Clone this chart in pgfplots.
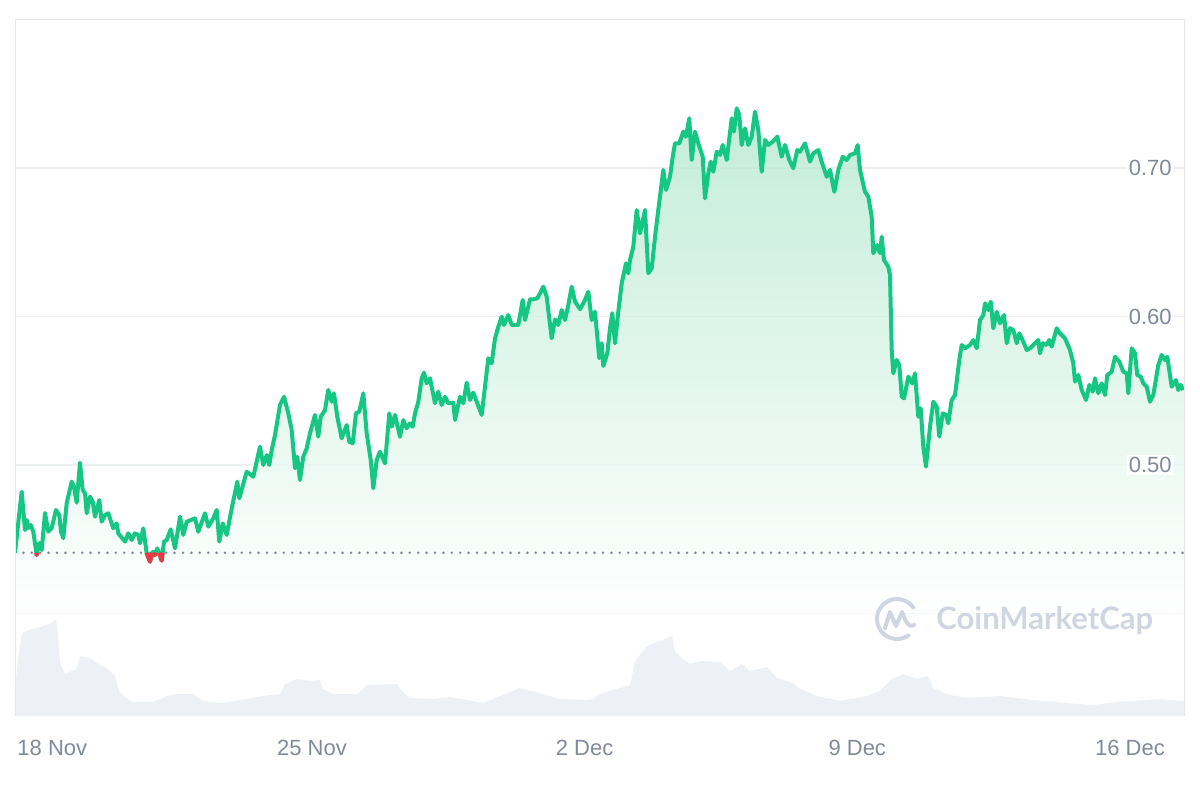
\documentclass[border=0pt]{standalone}
\usepackage{fontspec}
\setmainfont{Liberation Sans}
\newfontfamily\cmcfont{Lato}
\usepackage{pgfplots}
\usepackage{pgfplotstable}
\pgfplotsset{compat=1.18}

\definecolor{cmcgreen}{RGB}{22,199,132}
\definecolor{cmcred}{RGB}{234,57,67}
\definecolor{tickgray}{RGB}{128,138,157}
\definecolor{gridgray}{RGB}{236,239,242}
\definecolor{framegray}{RGB}{228,231,235}
\definecolor{volgray}{RGB}{237,240,244}
\definecolor{fillgreen}{RGB}{180,232,207}
\definecolor{markgray}{RGB}{207,214,226}

% tick labels above the plots
\pgfplotsset{
  layers/labelsontop/.define layer set={
    axis background,axis grid,axis ticks,axis lines,pre main,main,
    axis tick labels,axis descriptions,axis foreground
  }{
    grid style={/pgfplots/on layer=axis grid},
    tick style={/pgfplots/on layer=axis ticks},
    axis line style={/pgfplots/on layer=axis lines},
    label style={/pgfplots/on layer=axis descriptions},
    ticklabel style={/pgfplots/on layer=axis tick labels},
  },
}

% price, x = days since 18 Nov
\pgfplotstableread{
day price
-0.625 0.4409
-0.453 0.4820
-0.368 0.4562
-0.324 0.4630
-0.283 0.4576
-0.222 0.4596
-0.155 0.4551
-0.068 0.4394
-0.001 0.4475
0.061 0.4428
0.146 0.4677
0.230 0.4551
0.318 0.4576
0.428 0.4697
0.513 0.4663
0.556 0.4551
0.615 0.4508
0.703 0.4744
0.831 0.4888
0.890 0.4854
0.959 0.4746
1.044 0.5015
1.113 0.4832
1.173 0.4809
1.216 0.4675
1.301 0.4787
1.370 0.4753
1.429 0.4652
1.540 0.4764
1.601 0.4618
1.686 0.4663
1.771 0.4675
1.899 0.4574
1.986 0.4607
2.027 0.4540
2.200 0.4484
2.284 0.4540
2.372 0.4495
2.456 0.4540
2.541 0.4529
2.585 0.4473
2.669 0.4574
2.757 0.4405
2.841 0.4349
2.911 0.4416
2.970 0.4394
3.029 0.4439
3.080 0.4405
3.142 0.4356
3.201 0.4484
3.270 0.4495
3.373 0.4567
3.483 0.4439
3.612 0.4652
3.696 0.4529
3.784 0.4618
3.997 0.4641
4.081 0.4551
4.253 0.4675
4.338 0.4585
4.466 0.4641
4.554 0.4697
4.621 0.4484
4.708 0.4607
4.810 0.4529
4.939 0.4708
5.083 0.4888
5.134 0.4776
5.324 0.4955
5.494 0.4921
5.665 0.5123
5.750 0.5000
5.838 0.5067
5.904 0.5000
5.966 0.5101
6.051 0.5202
6.179 0.5404
6.282 0.5460
6.392 0.5348
6.479 0.5236
6.564 0.4978
6.623 0.5056
6.692 0.4899
6.777 0.5056
6.865 0.5113
6.949 0.5213
7.077 0.5337
7.162 0.5191
7.224 0.5325
7.334 0.5370
7.419 0.5505
7.506 0.5426
7.565 0.5483
7.650 0.5325
7.763 0.5180
7.891 0.5269
7.958 0.5157
8.045 0.5146
8.130 0.5348
8.215 0.5359
8.318 0.5483
8.405 0.5213
8.508 0.5034
8.574 0.4843
8.662 0.5034
8.746 0.5090
8.875 0.5011
8.985 0.5348
9.047 0.5258
9.131 0.5337
9.260 0.5190
9.345 0.5303
9.432 0.5247
9.516 0.5281
9.586 0.5258
9.645 0.5348
9.730 0.5426
9.817 0.5584
9.876 0.5622
9.945 0.5550
10.030 0.5584
10.158 0.5416
10.243 0.5494
10.330 0.5404
10.415 0.5460
10.500 0.5416
10.628 0.5420
10.672 0.5303
10.800 0.5460
10.885 0.5416
10.972 0.5554
11.057 0.5438
11.142 0.5487
11.357 0.5337
11.527 0.5719
11.614 0.5685
11.699 0.5853
11.784 0.5931
11.871 0.5999
11.930 0.5943
12.040 0.6010
12.128 0.5943
12.297 0.5943
12.410 0.6111
12.469 0.5976
12.597 0.6116
12.682 0.6116
12.785 0.6123
12.854 0.6156
12.939 0.6201
13.026 0.6133
13.154 0.5853
13.239 0.5981
13.324 0.5943
13.411 0.6044
13.496 0.5976
13.581 0.6077
13.668 0.6201
13.753 0.6100
13.881 0.6049
14.009 0.6111
14.094 0.6167
14.181 0.5976
14.266 0.6032
14.376 0.5719
14.438 0.5820
14.479 0.5667
14.582 0.5752
14.651 0.5921
14.710 0.6022
14.780 0.5820
14.864 0.6032
14.952 0.6224
15.062 0.6358
15.121 0.6291
15.165 0.6380
15.250 0.6470
15.337 0.6717
15.422 0.6560
15.550 0.6717
15.635 0.6291
15.722 0.6325
15.807 0.6537
15.891 0.6717
16.020 0.6987
16.089 0.6852
16.192 0.6941
16.261 0.7076
16.320 0.7166
16.430 0.7166
16.533 0.7245
16.602 0.7211
16.687 0.7335
16.749 0.7054
16.834 0.7245
16.918 0.7166
17.031 0.7076
17.090 0.6796
17.175 0.6964
17.237 0.7043
17.303 0.6975
17.391 0.7110
17.476 0.7088
17.545 0.7155
17.648 0.7054
17.776 0.7335
17.835 0.7245
17.904 0.7402
17.971 0.7357
18.033 0.7155
18.117 0.7267
18.202 0.7155
18.289 0.7211
18.374 0.7379
18.459 0.7256
18.546 0.6975
18.631 0.7189
18.716 0.7155
18.828 0.7177
18.946 0.7211
19.059 0.7076
19.144 0.7155
19.254 0.7054
19.357 0.6998
19.460 0.7121
19.529 0.7110
19.658 0.7166
19.786 0.7043
19.871 0.7099
19.999 0.7121
20.086 0.7043
20.215 0.6941
20.300 0.6987
20.410 0.6840
20.513 0.6987
20.626 0.7076
20.728 0.7054
20.813 0.7088
20.941 0.7099
21.011 0.7155
21.070 0.6987
21.198 0.6840
21.283 0.6807
21.370 0.6672
21.411 0.6426
21.514 0.6481
21.583 0.6426
21.627 0.6537
21.686 0.6380
21.797 0.6335
21.840 0.6279
21.884 0.5774
21.925 0.5617
22.012 0.5707
22.079 0.5673
22.141 0.5460
22.200 0.5449
22.310 0.5595
22.413 0.5550
22.482 0.5617
22.567 0.5325
22.628 0.5382
22.695 0.5123
22.764 0.4989
22.867 0.5258
22.952 0.5426
23.039 0.5393
23.106 0.5191
23.193 0.5348
23.278 0.5337
23.337 0.5281
23.424 0.5438
23.509 0.5471
23.619 0.5707
23.681 0.5808
23.766 0.5786
23.894 0.5808
23.979 0.5842
24.066 0.5786
24.151 0.5976
24.236 0.6010
24.280 0.6089
24.364 0.6044
24.426 0.6100
24.493 0.5921
24.580 0.6032
24.664 0.5954
24.767 0.6010
24.836 0.5820
24.921 0.5921
25.006 0.5909
25.093 0.5820
25.160 0.5887
25.263 0.5830
25.350 0.5774
25.434 0.5786
25.563 0.5820
25.647 0.5842
25.691 0.5752
25.760 0.5820
25.863 0.5808
25.930 0.5842
25.991 0.5797
26.120 0.5921
26.204 0.5887
26.333 0.5853
26.461 0.5774
26.546 0.5685
26.590 0.5561
26.675 0.5606
26.762 0.5505
26.872 0.5438
26.957 0.5539
27.044 0.5494
27.103 0.5584
27.188 0.5483
27.275 0.5550
27.360 0.5471
27.419 0.5606
27.532 0.5628
27.617 0.5729
27.727 0.5696
27.830 0.5628
27.917 0.5617
27.958 0.5483
28.045 0.5786
28.130 0.5752
28.189 0.5606
28.277 0.5595
28.343 0.5550
28.431 0.5527
28.515 0.5426
28.600 0.5471
28.728 0.5673
28.815 0.5741
28.900 0.5707
28.959 0.5729
29.072 0.5527
29.182 0.5572
29.241 0.5505
29.303 0.5539
29.370 0.5505
}\pricedata

% volume, arbitrary units
\pgfplotstableread{
day vol
-0.625 2.8
-0.548 5.7
-0.445 8.3
-0.317 8.5
-0.163 8.7
0.094 9.0
0.325 9.3
0.428 9.7
0.479 8.3
0.531 5.3
0.659 4.2
0.839 4.5
0.967 4.7
1.044 6.0
1.301 5.8
1.481 5.3
1.737 4.8
1.943 4.0
2.071 2.3
2.379 1.4
2.918 1.4
3.278 2.0
3.534 2.2
3.945 2.2
4.202 1.5
4.716 1.3
5.152 1.6
5.743 2.0
6.179 2.2
6.307 3.2
6.615 3.7
6.949 3.5
7.206 3.6
7.283 2.7
7.540 2.2
8.156 2.2
8.413 3.1
9.183 3.2
9.260 2.7
9.517 1.8
10.107 1.7
10.544 1.9
11.391 1.3
11.827 2.0
12.341 2.8
12.931 2.2
13.368 1.7
14.138 1.6
14.472 2.3
15.165 3.1
15.293 5.5
15.601 7.0
15.935 7.5
16.243 8.0
16.320 6.5
16.525 5.7
16.705 5.2
16.962 5.5
17.475 5.4
17.732 4.5
18.040 5.2
18.246 4.5
18.682 4.9
18.939 3.8
19.350 3.3
19.529 2.7
19.966 2.0
20.556 1.5
21.249 2.0
21.583 2.5
21.891 3.7
22.174 4.2
22.533 3.7
22.816 4.0
22.944 2.8
23.303 2.2
23.817 1.8
24.664 2.0
25.511 1.6
26.384 1.3
27.051 1.1
27.668 1.4
28.078 1.5
28.694 1.7
29.362 1.5
29.413 1.5
}\voldata

\begin{document}
\begin{tikzpicture}
\pgfplotsset{chartbase/.style={
  scale only axis, width=585pt, height=348.5pt,
  at={(7.5pt,42pt)}, anchor=south west,
  xmin=-0.6246, xmax=29.414}}

% volume underlay
\begin{axis}[chartbase, ymin=0, ymax=69.7, hide axis]
  \addplot[draw=none, fill=volgray] table[x=day, y=vol] {\voldata} \closedcycle;
\end{axis}

% price
\begin{axis}[chartbase,
    set layers=labelsontop,
    ymin=0.33098, ymax=0.80034,
    axis line style={draw=none},
    major tick length=0pt,
    xtick={0,7,14,21,28},
    xticklabels={\hspace*{13pt}18 Nov, 25 Nov, 2 Dec, 9 Dec, 16 Dec},
    ytick={0.4,0.5,0.6,0.7},
    yticklabels={,0.50,0.60,0.70},
    yticklabel pos=right,
    ymajorgrids,
    major grid style={gridgray, line width=0.9pt},
    tick label style={font=\fontsize{11}{13}\selectfont, text=tickgray},
    xticklabel style={anchor=center, yshift=-16pt},
    yticklabel style={anchor=east, xshift=-5.5pt, fill=white, inner xsep=1pt, inner ysep=1pt},
  ]
  \addplot[draw=none, fill opacity=0.8, top color=fillgreen, bottom color=white]
    table[x=day, y=price] {\pricedata}
    -- (axis cs:29.370,0.40) -- (axis cs:-0.625,0.40) -- cycle;

  % opening price reference
  \addplot[tickgray, line width=1.4pt, line cap=round, dash pattern=on 0pt off 4.2pt]
    coordinates {(-0.6246,0.4409) (29.414,0.4409)};

  \addplot[cmcgreen, line width=2pt, line join=round] table[x=day, y=price] {\pricedata};
  \addplot[cmcred, line width=2pt, line join=round, unbounded coords=jump] coordinates {
    (-0.076,0.4409) (-0.068,0.4394) (-0.056,0.4409) (-0.05,nan)
    (2.755,0.4409) (2.757,0.4405) (2.841,0.4349) (2.904,0.4409) (2.92,nan)
    (2.930,0.4409) (2.970,0.4394) (2.990,0.4409) (3.0,nan)
    (3.074,0.4409) (3.080,0.4405) (3.142,0.4356) (3.166,0.4409)};

  \draw[framegray, line width=1pt]
    (rel axis cs:0,0) -- (rel axis cs:0,1) -- (rel axis cs:1,1) -- (rel axis cs:1,0);
\end{axis}

% watermark
\begin{scope}[markgray, line width=2pt, line cap=round, line join=round]
  \draw (448.5pt,90.5pt) ++(35:10pt) arc[start angle=35, end angle=305, radius=10pt];
  \draw (442.5pt,86pt) -- (445pt,94pt) -- (448pt,87pt) -- (451pt,94pt)
        .. controls (453pt,89pt) and (454pt,86pt) .. (457pt,87.5pt);
\end{scope}
\node[anchor=west, inner sep=0pt, text=markgray]
  at (468pt,89.5pt) {\cmcfont\fontsize{15.5}{15.5}\selectfont\bfseries CoinMarketCap};

\pgfresetboundingbox
\path[use as bounding box] (0,0) rectangle (600pt,400pt);
\end{tikzpicture}
\end{document}
